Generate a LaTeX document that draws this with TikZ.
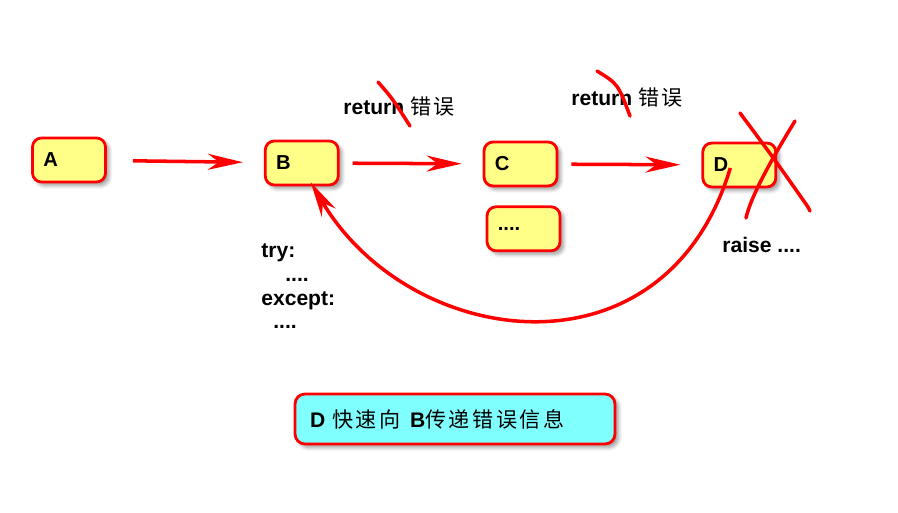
\documentclass[tikz,border=0pt]{standalone}
\usepackage{fontspec}
\setmainfont{Liberation Sans}
\newfontfamily\cjk[LetterSpace=12]{Noto Sans CJK SC}
\usepackage{tikz}
\usetikzlibrary{arrows.meta, positioning, shadows.blur}

\definecolor{boxyellow}{HTML}{FFFF88}
\definecolor{boxcyan}{HTML}{80FFFF}

\begin{document}
\begin{tikzpicture}[
        x=0.02cm, y=-0.02cm,
        node distance=0.36cm and 2.86cm,
        box/.style={rectangle, draw=red, line width=1.6pt, fill=boxyellow, rounded corners=0.18cm,
            minimum width=1.46cm, minimum height=0.88cm, text width=1.03cm, align=left,
            font=\fontsize{11.5}{13}\selectfont\bfseries,
            blur shadow={shadow xshift=0.07cm, shadow yshift=-0.07cm, shadow blur steps=6}},
        note/.style={rectangle, draw=red, line width=1.6pt, fill=boxcyan, rounded corners=0.2cm,
            minimum width=6.4cm, minimum height=1cm, text width=5.8cm, align=left,
            font=\fontsize{12}{14}\selectfont,
            blur shadow={shadow xshift=0.07cm, shadow yshift=-0.07cm, shadow blur steps=6}},
        label/.style={anchor=west, inner sep=0pt, font=\fontsize{12}{14}\selectfont\bfseries},
        arrow/.style={-{Stealth[length=0.7cm, width=0.32cm, inset=0.22cm]}, red, line width=2pt},
        strike/.style={red, line width=2pt, line cap=round}
    ]
    \useasboundingbox (0,0) rectangle (898,513);

    % Nodes
    \node[box] (A) at (69,160) {A};
    \node[box] (B) [right=3.14cm of A, yshift=-0.06cm] {B};
    \node[box] (C) [right=of B, yshift=-0.02cm] {C};
    \node[box] (dots) [below=of C, xshift=0.06cm] {....};
    \node[box] (D) [right=of C, yshift=-0.02cm] {D};

    \node[note] (msg) at (455,419) {\textbf{D} {\cjk 快速向} \textbf{B}{\cjk 传递错误信息}};

    % Labels
    \node[label] (ret1) at (343,107) {return {\mdseries\cjk 错误}};
    \node[label] (ret2) at (571,98) {return {\mdseries\cjk 错误}};
    \node[label] (raise) at (722,245) {raise ....};
    \node[label] (try) at (261,253) {try:};
    \node[label] (tbody) at (285,280) {....};
    \node[label] (except) at (261,301) {except:};
    \node[label] (ebody) at (273,327) {....};

    % Connections
    \draw[arrow, shorten <=0.52cm, shorten >=0.42cm] (A) -- (B);
    \draw[arrow, shorten <=0.26cm, shorten >=0.42cm] (B) -- (C);
    \draw[arrow, shorten <=0.26cm, shorten >=0.42cm] (C) -- (D);
    \draw[arrow] ([xshift=-0.18cm, yshift=-0.06cm]D.center) .. controls (665,385) and (410,350) .. ([xshift=0.18cm, yshift=0.08cm]B.south);

    % Strike-outs
    \draw[strike] (378,82) .. controls (392,98) .. (410,126);
    \draw[strike] (597,71) .. controls (618,84) .. (630,116);
    \draw[strike] (740,113) .. controls (775,160) .. (808,207) -- (810,211);
    \draw[strike] (795,121) .. controls (765,170) and (750,200) .. (746,218);

    \end{tikzpicture}
\end{document}
